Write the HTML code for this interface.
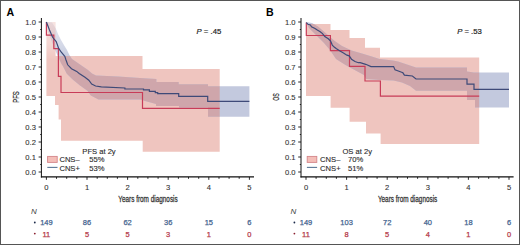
<!DOCTYPE html>
<html><head><meta charset="utf-8"><style>
html,body{margin:0;padding:0;background:#fff;}
svg{display:block;}
text{font-family:"Liberation Sans",sans-serif;fill:#222;stroke-width:0.25px;paint-order:stroke;}
.cond{stroke:#333;}
.tk{stroke:#333;stroke-width:0.1px;}
.tk{font-size:7.6px;fill:#333;}
.cond{font-size:8.2px;fill:#333;}
.lett{font-size:10.6px;font-weight:bold;fill:#000;}
.lg{font-size:7.6px;fill:#2a2a2a;stroke:#333;stroke-width:0.12px;}
.pv{font-size:7.7px;fill:#222;stroke:#222;stroke-width:0.2px;}
.nn{font-size:8px;font-style:italic;fill:#444;}
.nb{font-size:7.5px;fill:#44648f;stroke:#44648f;stroke-width:0.25px;}
.nr{font-size:7.5px;fill:#b53a4a;stroke:#b53a4a;stroke-width:0.25px;}
</style></head><body>
<svg width="520" height="245" viewBox="0 0 520 245">
<rect x="0" y="0" width="520" height="245" fill="#fff"/>
<clipPath id="clipa"><polygon points="46.4,22.0 55.6,22.0 55.6,56.0 142.5,56.0 142.5,69.0 219.7,69.0 219.7,151.7 142.7,151.7 142.7,140.7 61.0,140.7 61.0,119.5 58.6,119.5 58.6,105.0 55.0,105.0 55.0,96.0 46.4,96.0"/></clipPath>
<polygon points="46.4,22.0 55.6,22.0 55.6,56.0 142.5,56.0 142.5,69.0 219.7,69.0 219.7,151.7 142.7,151.7 142.7,140.7 61.0,140.7 61.0,119.5 58.6,119.5 58.6,105.0 55.0,105.0 55.0,96.0 46.4,96.0" fill="#efc5bf"/>
<polygon points="46.4,22.0 52.0,22.5 56.0,29.0 58.0,34.0 61.0,40.0 64.5,46.0 67.0,50.0 69.4,55.0 72.0,59.0 80.0,64.5 88.0,70.0 92.0,73.5 96.0,75.5 118.0,76.5 140.0,78.0 156.4,79.0 156.4,82.0 178.7,82.0 178.7,84.2 208.0,84.2 208.0,86.3 249.4,86.3 249.4,116.7 208.0,116.7 208.0,107.5 179.0,107.5 179.0,106.0 156.0,106.0 156.0,104.0 145.0,101.0 140.8,99.4 98.5,99.4 90.8,95.6 87.4,90.7 80.0,85.5 72.7,79.6 66.8,73.8 63.1,66.4 61.1,63.3 56.0,52.0 52.0,42.0 48.0,31.0 46.4,22.0" fill="#c3c9de"/>
<polygon points="46.4,22.0 52.0,22.5 56.0,29.0 58.0,34.0 61.0,40.0 64.5,46.0 67.0,50.0 69.4,55.0 72.0,59.0 80.0,64.5 88.0,70.0 92.0,73.5 96.0,75.5 118.0,76.5 140.0,78.0 156.4,79.0 156.4,82.0 178.7,82.0 178.7,84.2 208.0,84.2 208.0,86.3 249.4,86.3 249.4,116.7 208.0,116.7 208.0,107.5 179.0,107.5 179.0,106.0 156.0,106.0 156.0,104.0 145.0,101.0 140.8,99.4 98.5,99.4 90.8,95.6 87.4,90.7 80.0,85.5 72.7,79.6 66.8,73.8 63.1,66.4 61.1,63.3 56.0,52.0 52.0,42.0 48.0,31.0 46.4,22.0" fill="#cfa6ab" clip-path="url(#clipa)"/>
<linearGradient id="wg" x1="0" y1="0" x2="0" y2="1"><stop offset="0" stop-color="#fff" stop-opacity="0.55"/><stop offset="0.6" stop-color="#fff" stop-opacity="0.3"/><stop offset="1" stop-color="#fff" stop-opacity="0"/></linearGradient>
<polygon points="46,21 56,21 70,40 76,60 46,60" fill="url(#wg)"/>
<polyline points="46.4,22.0 46.4,35.2 53.8,35.2 53.8,48.7 58.4,48.7 58.4,76.3 61.0,76.3 61.0,92.5 142.5,92.5 142.5,108.4 219.7,108.4" fill="none" stroke="#c83c58" stroke-width="1.2"/>
<polyline points="46.4,22.0 49.5,30.0 52.6,37.3 56.2,41.6 58.7,48.4 61.1,52.0 64.8,56.3 66.0,60.0 67.7,64.8 71.5,68.7 76.7,71.4 79.2,73.5 85.0,77.3 88.8,80.2 91.7,84.0 95.6,86.0 101.3,86.9 124.9,88.0 124.9,89.0 143.5,89.0 143.5,89.8 149.4,89.8 149.4,91.3 155.3,91.3 155.3,92.7 157.7,92.7 157.7,93.7 178.7,93.7 178.7,96.3 207.7,96.3 207.7,101.4 249.4,101.4" fill="none" stroke="#3e4a78" stroke-width="1.2"/>
<line x1="41.4" y1="18" x2="41.4" y2="177.5" stroke="#111" stroke-width="1"/>
<line x1="40.9" y1="176.9" x2="254" y2="176.9" stroke="#111" stroke-width="1.1"/>
<line x1="46.4" y1="177" x2="46.4" y2="179.8" stroke="#111" stroke-width="0.9"/>
<line x1="56.5" y1="177" x2="56.5" y2="178.8" stroke="#111" stroke-width="0.9"/>
<line x1="66.7" y1="177" x2="66.7" y2="178.8" stroke="#111" stroke-width="0.9"/>
<line x1="76.8" y1="177" x2="76.8" y2="178.8" stroke="#111" stroke-width="0.9"/>
<line x1="87.0" y1="177" x2="87.0" y2="179.8" stroke="#111" stroke-width="0.9"/>
<line x1="97.2" y1="177" x2="97.2" y2="178.8" stroke="#111" stroke-width="0.9"/>
<line x1="107.3" y1="177" x2="107.3" y2="178.8" stroke="#111" stroke-width="0.9"/>
<line x1="117.4" y1="177" x2="117.4" y2="178.8" stroke="#111" stroke-width="0.9"/>
<line x1="127.6" y1="177" x2="127.6" y2="179.8" stroke="#111" stroke-width="0.9"/>
<line x1="137.8" y1="177" x2="137.8" y2="178.8" stroke="#111" stroke-width="0.9"/>
<line x1="147.9" y1="177" x2="147.9" y2="178.8" stroke="#111" stroke-width="0.9"/>
<line x1="158.1" y1="177" x2="158.1" y2="178.8" stroke="#111" stroke-width="0.9"/>
<line x1="168.2" y1="177" x2="168.2" y2="179.8" stroke="#111" stroke-width="0.9"/>
<line x1="178.4" y1="177" x2="178.4" y2="178.8" stroke="#111" stroke-width="0.9"/>
<line x1="188.5" y1="177" x2="188.5" y2="178.8" stroke="#111" stroke-width="0.9"/>
<line x1="198.7" y1="177" x2="198.7" y2="178.8" stroke="#111" stroke-width="0.9"/>
<line x1="208.8" y1="177" x2="208.8" y2="179.8" stroke="#111" stroke-width="0.9"/>
<line x1="219.0" y1="177" x2="219.0" y2="178.8" stroke="#111" stroke-width="0.9"/>
<line x1="229.1" y1="177" x2="229.1" y2="178.8" stroke="#111" stroke-width="0.9"/>
<line x1="239.2" y1="177" x2="239.2" y2="178.8" stroke="#111" stroke-width="0.9"/>
<line x1="249.4" y1="177" x2="249.4" y2="179.8" stroke="#111" stroke-width="0.9"/>
<line x1="38.6" y1="172.0" x2="41.4" y2="172.0" stroke="#111" stroke-width="0.9"/>
<line x1="40.199999999999996" y1="164.5" x2="41.4" y2="164.5" stroke="#111" stroke-width="0.9"/>
<line x1="38.6" y1="157.0" x2="41.4" y2="157.0" stroke="#111" stroke-width="0.9"/>
<line x1="40.199999999999996" y1="149.5" x2="41.4" y2="149.5" stroke="#111" stroke-width="0.9"/>
<line x1="38.6" y1="142.0" x2="41.4" y2="142.0" stroke="#111" stroke-width="0.9"/>
<line x1="40.199999999999996" y1="134.5" x2="41.4" y2="134.5" stroke="#111" stroke-width="0.9"/>
<line x1="38.6" y1="127.0" x2="41.4" y2="127.0" stroke="#111" stroke-width="0.9"/>
<line x1="40.199999999999996" y1="119.5" x2="41.4" y2="119.5" stroke="#111" stroke-width="0.9"/>
<line x1="38.6" y1="112.0" x2="41.4" y2="112.0" stroke="#111" stroke-width="0.9"/>
<line x1="40.199999999999996" y1="104.5" x2="41.4" y2="104.5" stroke="#111" stroke-width="0.9"/>
<line x1="38.6" y1="97.0" x2="41.4" y2="97.0" stroke="#111" stroke-width="0.9"/>
<line x1="40.199999999999996" y1="89.5" x2="41.4" y2="89.5" stroke="#111" stroke-width="0.9"/>
<line x1="38.6" y1="82.0" x2="41.4" y2="82.0" stroke="#111" stroke-width="0.9"/>
<line x1="40.199999999999996" y1="74.5" x2="41.4" y2="74.5" stroke="#111" stroke-width="0.9"/>
<line x1="38.6" y1="67.0" x2="41.4" y2="67.0" stroke="#111" stroke-width="0.9"/>
<line x1="40.199999999999996" y1="59.5" x2="41.4" y2="59.5" stroke="#111" stroke-width="0.9"/>
<line x1="38.6" y1="52.0" x2="41.4" y2="52.0" stroke="#111" stroke-width="0.9"/>
<line x1="40.199999999999996" y1="44.5" x2="41.4" y2="44.5" stroke="#111" stroke-width="0.9"/>
<line x1="38.6" y1="37.0" x2="41.4" y2="37.0" stroke="#111" stroke-width="0.9"/>
<line x1="40.199999999999996" y1="29.5" x2="41.4" y2="29.5" stroke="#111" stroke-width="0.9"/>
<line x1="38.6" y1="22.0" x2="41.4" y2="22.0" stroke="#111" stroke-width="0.9"/>
<text x="35.9" y="174.7" text-anchor="end" class="tk">0.0</text>
<text x="35.9" y="159.7" text-anchor="end" class="tk">0.1</text>
<text x="35.9" y="144.7" text-anchor="end" class="tk">0.2</text>
<text x="35.9" y="129.7" text-anchor="end" class="tk">0.3</text>
<text x="35.9" y="114.7" text-anchor="end" class="tk">0.4</text>
<text x="35.9" y="99.7" text-anchor="end" class="tk">0.5</text>
<text x="35.9" y="84.7" text-anchor="end" class="tk">0.6</text>
<text x="35.9" y="69.7" text-anchor="end" class="tk">0.7</text>
<text x="35.9" y="54.7" text-anchor="end" class="tk">0.8</text>
<text x="35.9" y="39.7" text-anchor="end" class="tk">0.9</text>
<text x="35.9" y="24.7" text-anchor="end" class="tk">1.0</text>
<text x="46.4" y="189.7" text-anchor="middle" class="tk">0</text>
<text x="87.0" y="189.7" text-anchor="middle" class="tk">1</text>
<text x="127.6" y="189.7" text-anchor="middle" class="tk">2</text>
<text x="168.2" y="189.7" text-anchor="middle" class="tk">3</text>
<text x="208.8" y="189.7" text-anchor="middle" class="tk">4</text>
<text x="249.4" y="189.7" text-anchor="middle" class="tk">5</text>
<text x="148" y="201.7" text-anchor="middle" class="cond" transform="translate(148 0) scale(0.78 1) translate(-148 0)">Years from diagnosis</text>
<text x="0" y="0" text-anchor="middle" class="cond" transform="translate(19.2 97) rotate(-90) scale(0.72 1)">PFS</text>
<text x="6.4" y="15.5" class="lett">A</text>
<text x="196.6" y="33.7" class="pv"><tspan font-style="italic">P</tspan> = .45</text>
<text x="0" y="0" text-anchor="middle" class="lg" transform="translate(99.0 154.1) scale(1.0 1)">PFS at 2y</text>
<rect x="47.6" y="156.4" width="9.6" height="6" fill="#f4beb8" stroke="#d4868a" stroke-width="0.9"/>
<line x1="47.3" y1="167.4" x2="57.5" y2="167.4" stroke="#5a7896" stroke-width="1.1"/>
<text x="0" y="0" text-anchor="start" class="lg" transform="translate(59.4 162.0) scale(1.0 1)">CNS–</text>
<text x="0" y="0" text-anchor="start" class="lg" transform="translate(89.2 162.0) scale(1.0 1)">55%</text>
<text x="0" y="0" text-anchor="start" class="lg" transform="translate(59.4 170.8) scale(1.0 1)">CNS+</text>
<text x="0" y="0" text-anchor="start" class="lg" transform="translate(89.2 170.8) scale(1.0 1)">53%</text>
<text x="31" y="214.2" class="nn">N</text>
<circle cx="34.8" cy="222.5" r="0.9" fill="#1c2a4a"/>
<circle cx="34.8" cy="233.6" r="0.9" fill="#8a1f2f"/>
<text x="46.4" y="225.3" text-anchor="middle" class="nb">149</text>
<text x="46.4" y="236.5" text-anchor="middle" class="nr">11</text>
<text x="87.0" y="225.3" text-anchor="middle" class="nb">86</text>
<text x="87.0" y="236.5" text-anchor="middle" class="nr">5</text>
<text x="127.6" y="225.3" text-anchor="middle" class="nb">62</text>
<text x="127.6" y="236.5" text-anchor="middle" class="nr">5</text>
<text x="168.2" y="225.3" text-anchor="middle" class="nb">36</text>
<text x="168.2" y="236.5" text-anchor="middle" class="nr">3</text>
<text x="208.8" y="225.3" text-anchor="middle" class="nb">15</text>
<text x="208.8" y="236.5" text-anchor="middle" class="nr">1</text>
<text x="249.4" y="225.3" text-anchor="middle" class="nb">6</text>
<text x="249.4" y="236.5" text-anchor="middle" class="nr">0</text>
<clipPath id="clipb"><polygon points="306.0,24.0 330.5,24.0 330.5,30.0 349.5,30.0 349.5,38.0 365.0,38.0 365.0,47.7 380.0,47.7 380.0,57.6 479.2,57.6 479.2,144.0 380.6,144.0 380.6,133.4 366.0,133.4 366.0,121.7 349.6,121.7 349.6,107.8 330.6,107.8 330.6,96.0 306.0,96.0"/></clipPath>
<polygon points="306.0,24.0 330.5,24.0 330.5,30.0 349.5,30.0 349.5,38.0 365.0,38.0 365.0,47.7 380.0,47.7 380.0,57.6 479.2,57.6 479.2,144.0 380.6,144.0 380.6,133.4 366.0,133.4 366.0,121.7 349.6,121.7 349.6,107.8 330.6,107.8 330.6,96.0 306.0,96.0" fill="#efc5bf"/>
<polygon points="306.0,22.0 312.0,23.0 318.0,26.5 325.0,32.5 334.0,40.5 342.0,46.0 351.6,50.5 362.0,53.5 371.0,56.3 379.6,59.0 393.0,60.5 398.0,61.5 404.0,63.5 416.0,67.4 467.0,67.4 467.0,71.4 474.0,72.6 509.0,72.6 509.0,107.6 475.0,107.6 475.0,100.0 467.0,100.0 467.0,90.8 416.0,90.8 410.0,86.0 402.0,82.5 393.6,80.6 380.0,80.0 366.0,79.0 364.0,75.0 350.0,67.4 345.5,65.0 336.0,58.9 330.0,50.0 324.0,43.0 316.0,35.0 309.0,28.0 306.0,22.0" fill="#c3c9de"/>
<polygon points="306.0,22.0 312.0,23.0 318.0,26.5 325.0,32.5 334.0,40.5 342.0,46.0 351.6,50.5 362.0,53.5 371.0,56.3 379.6,59.0 393.0,60.5 398.0,61.5 404.0,63.5 416.0,67.4 467.0,67.4 467.0,71.4 474.0,72.6 509.0,72.6 509.0,107.6 475.0,107.6 475.0,100.0 467.0,100.0 467.0,90.8 416.0,90.8 410.0,86.0 402.0,82.5 393.6,80.6 380.0,80.0 366.0,79.0 364.0,75.0 350.0,67.4 345.5,65.0 336.0,58.9 330.0,50.0 324.0,43.0 316.0,35.0 309.0,28.0 306.0,22.0" fill="#cfa6ab" clip-path="url(#clipb)"/>
<polyline points="306.3,22.6 306.3,35.5 330.4,35.5 330.4,50.6 349.5,50.6 349.5,66.3 365.0,66.3 365.0,81.0 380.4,81.0 380.4,96.2 479.2,96.2" fill="none" stroke="#c83c58" stroke-width="1.2"/>
<polyline points="306.3,22.6 308.0,24.3 310.4,24.9 311.5,26.7 315.0,28.4 317.3,30.1 320.2,31.8 322.5,33.6 324.8,36.5 328.3,38.8 330.6,41.0 332.3,45.1 334.2,47.1 336.5,48.8 340.0,51.1 343.5,52.9 346.9,55.2 349.2,55.8 351.5,59.2 355.0,61.5 358.4,62.7 360.2,62.7 365.7,64.3 371.0,66.6 393.6,66.6 395.0,69.7 399.0,71.3 402.9,72.8 404.4,75.1 412.4,76.0 416.0,79.0 467.0,79.0 467.0,84.2 474.0,84.2 474.0,89.3 509.0,89.3" fill="none" stroke="#3e4a78" stroke-width="1.2"/>
<line x1="301.0" y1="18" x2="301.0" y2="177.5" stroke="#111" stroke-width="1"/>
<line x1="300.5" y1="176.9" x2="513.6" y2="176.9" stroke="#111" stroke-width="1.1"/>
<line x1="306.0" y1="177" x2="306.0" y2="179.8" stroke="#111" stroke-width="0.9"/>
<line x1="316.1" y1="177" x2="316.1" y2="178.8" stroke="#111" stroke-width="0.9"/>
<line x1="326.3" y1="177" x2="326.3" y2="178.8" stroke="#111" stroke-width="0.9"/>
<line x1="336.4" y1="177" x2="336.4" y2="178.8" stroke="#111" stroke-width="0.9"/>
<line x1="346.6" y1="177" x2="346.6" y2="179.8" stroke="#111" stroke-width="0.9"/>
<line x1="356.8" y1="177" x2="356.8" y2="178.8" stroke="#111" stroke-width="0.9"/>
<line x1="366.9" y1="177" x2="366.9" y2="178.8" stroke="#111" stroke-width="0.9"/>
<line x1="377.1" y1="177" x2="377.1" y2="178.8" stroke="#111" stroke-width="0.9"/>
<line x1="387.2" y1="177" x2="387.2" y2="179.8" stroke="#111" stroke-width="0.9"/>
<line x1="397.4" y1="177" x2="397.4" y2="178.8" stroke="#111" stroke-width="0.9"/>
<line x1="407.5" y1="177" x2="407.5" y2="178.8" stroke="#111" stroke-width="0.9"/>
<line x1="417.6" y1="177" x2="417.6" y2="178.8" stroke="#111" stroke-width="0.9"/>
<line x1="427.8" y1="177" x2="427.8" y2="179.8" stroke="#111" stroke-width="0.9"/>
<line x1="438.0" y1="177" x2="438.0" y2="178.8" stroke="#111" stroke-width="0.9"/>
<line x1="448.1" y1="177" x2="448.1" y2="178.8" stroke="#111" stroke-width="0.9"/>
<line x1="458.2" y1="177" x2="458.2" y2="178.8" stroke="#111" stroke-width="0.9"/>
<line x1="468.4" y1="177" x2="468.4" y2="179.8" stroke="#111" stroke-width="0.9"/>
<line x1="478.6" y1="177" x2="478.6" y2="178.8" stroke="#111" stroke-width="0.9"/>
<line x1="488.7" y1="177" x2="488.7" y2="178.8" stroke="#111" stroke-width="0.9"/>
<line x1="498.9" y1="177" x2="498.9" y2="178.8" stroke="#111" stroke-width="0.9"/>
<line x1="509.0" y1="177" x2="509.0" y2="179.8" stroke="#111" stroke-width="0.9"/>
<line x1="298.2" y1="172.0" x2="301.0" y2="172.0" stroke="#111" stroke-width="0.9"/>
<line x1="299.8" y1="164.5" x2="301.0" y2="164.5" stroke="#111" stroke-width="0.9"/>
<line x1="298.2" y1="157.0" x2="301.0" y2="157.0" stroke="#111" stroke-width="0.9"/>
<line x1="299.8" y1="149.5" x2="301.0" y2="149.5" stroke="#111" stroke-width="0.9"/>
<line x1="298.2" y1="142.0" x2="301.0" y2="142.0" stroke="#111" stroke-width="0.9"/>
<line x1="299.8" y1="134.5" x2="301.0" y2="134.5" stroke="#111" stroke-width="0.9"/>
<line x1="298.2" y1="127.0" x2="301.0" y2="127.0" stroke="#111" stroke-width="0.9"/>
<line x1="299.8" y1="119.5" x2="301.0" y2="119.5" stroke="#111" stroke-width="0.9"/>
<line x1="298.2" y1="112.0" x2="301.0" y2="112.0" stroke="#111" stroke-width="0.9"/>
<line x1="299.8" y1="104.5" x2="301.0" y2="104.5" stroke="#111" stroke-width="0.9"/>
<line x1="298.2" y1="97.0" x2="301.0" y2="97.0" stroke="#111" stroke-width="0.9"/>
<line x1="299.8" y1="89.5" x2="301.0" y2="89.5" stroke="#111" stroke-width="0.9"/>
<line x1="298.2" y1="82.0" x2="301.0" y2="82.0" stroke="#111" stroke-width="0.9"/>
<line x1="299.8" y1="74.5" x2="301.0" y2="74.5" stroke="#111" stroke-width="0.9"/>
<line x1="298.2" y1="67.0" x2="301.0" y2="67.0" stroke="#111" stroke-width="0.9"/>
<line x1="299.8" y1="59.5" x2="301.0" y2="59.5" stroke="#111" stroke-width="0.9"/>
<line x1="298.2" y1="52.0" x2="301.0" y2="52.0" stroke="#111" stroke-width="0.9"/>
<line x1="299.8" y1="44.5" x2="301.0" y2="44.5" stroke="#111" stroke-width="0.9"/>
<line x1="298.2" y1="37.0" x2="301.0" y2="37.0" stroke="#111" stroke-width="0.9"/>
<line x1="299.8" y1="29.5" x2="301.0" y2="29.5" stroke="#111" stroke-width="0.9"/>
<line x1="298.2" y1="22.0" x2="301.0" y2="22.0" stroke="#111" stroke-width="0.9"/>
<text x="295.5" y="174.7" text-anchor="end" class="tk">0.0</text>
<text x="295.5" y="159.7" text-anchor="end" class="tk">0.1</text>
<text x="295.5" y="144.7" text-anchor="end" class="tk">0.2</text>
<text x="295.5" y="129.7" text-anchor="end" class="tk">0.3</text>
<text x="295.5" y="114.7" text-anchor="end" class="tk">0.4</text>
<text x="295.5" y="99.7" text-anchor="end" class="tk">0.5</text>
<text x="295.5" y="84.7" text-anchor="end" class="tk">0.6</text>
<text x="295.5" y="69.7" text-anchor="end" class="tk">0.7</text>
<text x="295.5" y="54.7" text-anchor="end" class="tk">0.8</text>
<text x="295.5" y="39.7" text-anchor="end" class="tk">0.9</text>
<text x="295.5" y="24.7" text-anchor="end" class="tk">1.0</text>
<text x="306.0" y="189.7" text-anchor="middle" class="tk">0</text>
<text x="346.6" y="189.7" text-anchor="middle" class="tk">1</text>
<text x="387.2" y="189.7" text-anchor="middle" class="tk">2</text>
<text x="427.8" y="189.7" text-anchor="middle" class="tk">3</text>
<text x="468.4" y="189.7" text-anchor="middle" class="tk">4</text>
<text x="509.0" y="189.7" text-anchor="middle" class="tk">5</text>
<text x="407.6" y="201.7" text-anchor="middle" class="cond" transform="translate(407.6 0) scale(0.78 1) translate(-407.6 0)">Years from diagnosis</text>
<text x="0" y="0" text-anchor="middle" class="cond" transform="translate(278.8 97) rotate(-90) scale(0.64 1)">OS</text>
<text x="266.0" y="15.5" class="lett">B</text>
<text x="457.20000000000005" y="33.7" class="pv"><tspan font-style="italic">P</tspan> = .53</text>
<text x="0" y="0" text-anchor="middle" class="lg" transform="translate(357.2 154.1) scale(1.0 1)">OS at 2y</text>
<rect x="307.20000000000005" y="156.4" width="9.6" height="6" fill="#f4beb8" stroke="#d4868a" stroke-width="0.9"/>
<line x1="306.90000000000003" y1="167.4" x2="317.1" y2="167.4" stroke="#5a7896" stroke-width="1.1"/>
<text x="0" y="0" text-anchor="start" class="lg" transform="translate(320.1 162.0) scale(1.0 1)">CNS–</text>
<text x="0" y="0" text-anchor="start" class="lg" transform="translate(348.0 162.0) scale(1.0 1)">70%</text>
<text x="0" y="0" text-anchor="start" class="lg" transform="translate(320.1 170.8) scale(1.0 1)">CNS+</text>
<text x="0" y="0" text-anchor="start" class="lg" transform="translate(348.0 170.8) scale(1.0 1)">51%</text>
<text x="290.6" y="214.2" class="nn">N</text>
<circle cx="294.40000000000003" cy="222.5" r="0.9" fill="#1c2a4a"/>
<circle cx="294.40000000000003" cy="233.6" r="0.9" fill="#8a1f2f"/>
<text x="306.0" y="225.3" text-anchor="middle" class="nb">149</text>
<text x="306.0" y="236.5" text-anchor="middle" class="nr">11</text>
<text x="346.6" y="225.3" text-anchor="middle" class="nb">103</text>
<text x="346.6" y="236.5" text-anchor="middle" class="nr">8</text>
<text x="387.2" y="225.3" text-anchor="middle" class="nb">72</text>
<text x="387.2" y="236.5" text-anchor="middle" class="nr">5</text>
<text x="427.8" y="225.3" text-anchor="middle" class="nb">40</text>
<text x="427.8" y="236.5" text-anchor="middle" class="nr">4</text>
<text x="468.4" y="225.3" text-anchor="middle" class="nb">18</text>
<text x="468.4" y="236.5" text-anchor="middle" class="nr">1</text>
<text x="509.0" y="225.3" text-anchor="middle" class="nb">6</text>
<text x="509.0" y="236.5" text-anchor="middle" class="nr">0</text>
<rect x="0.5" y="0.5" width="519" height="244" fill="none" stroke="#555" stroke-width="1"/>
</svg>
</body></html>
